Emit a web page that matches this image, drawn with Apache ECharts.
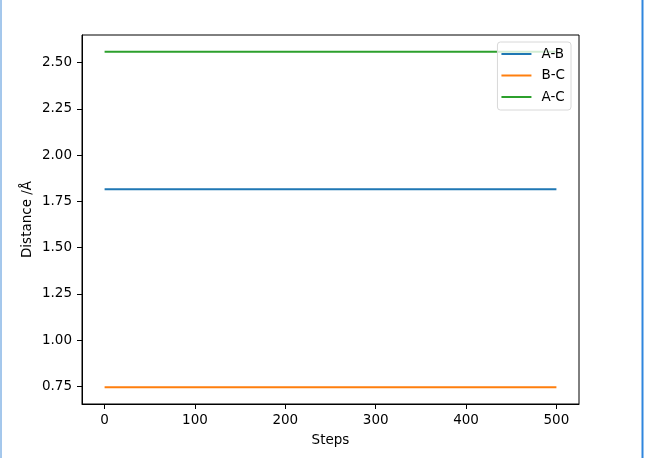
<!DOCTYPE html>
<html>
<head>
<meta charset="utf-8">
<script src="https://cdn.jsdelivr.net/npm/echarts@6/dist/echarts.min.js"></script>
<style>
  html, body { margin: 0; padding: 0; background: #fff; }
  #chart { width: 645px; height: 458px; }
</style>
</head>
<body>
<div id="chart"></div>
<script>
// distances over the run (flat lines)
var steps = [0, 100, 200, 300, 400, 500];
var distAB = [1.815, 1.815, 1.815, 1.815, 1.815, 1.815];
var distBC = [0.745, 0.745, 0.745, 0.745, 0.745, 0.745];
var distAC = [2.559, 2.559, 2.559, 2.559, 2.559, 2.559];

var xTicks = [0, 100, 200, 300, 400, 500];
var yTicks = [0.75, 1.00, 1.25, 1.50, 1.75, 2.00, 2.25, 2.50];

var seriesNames = ['A-B', 'B-C', 'A-C'];
var seriesColors = ['#1f77b4', '#ff7f0e', '#2ca02c'];
var seriesData = [distAB, distBC, distAC];

var font = 'DejaVu Sans';

function pairs(ys) {
  return steps.map(function (s, i) { return [s, ys[i]]; });
}

var chart = echarts.init(document.getElementById('chart'));

var option = {
  animation: false,
  backgroundColor: '#fff',
  textStyle: { fontFamily: font, color: '#000' },
  grid: {
    left: 82, right: 66, top: 35, bottom: 54,
    show: true, borderColor: '#000', borderWidth: 1,
    backgroundColor: '#fff'
  },
  legend: {
    orient: 'vertical',
    right: 74, top: 42,
    data: seriesNames,
    icon: 'rect',
    itemWidth: 30, itemHeight: 2,
    itemGap: 5.5,
    padding: [4, 6, 5, 4],
    borderColor: '#d8d8d8', borderWidth: 1, borderRadius: 3,
    backgroundColor: 'rgba(255,255,255,0.8)',
    textStyle: { fontFamily: font, fontSize: 13.5, color: '#000', lineHeight: 16, padding: [0, 0, 0, 5] }
  },
  xAxis: {
    type: 'value',
    min: -25, max: 525,
    name: 'Steps',
    nameLocation: 'middle',
    nameGap: 29,
    nameMoveOverlap: false,
    nameTextStyle: { fontFamily: font, fontSize: 13.5, color: '#000' },
    axisLine: { show: true, onZero: false, lineStyle: { color: '#000', width: 1 } },
    axisTick: { show: true, length: 5, lineStyle: { color: '#000' }, customValues: xTicks },
    axisLabel: { fontFamily: font, fontSize: 13.5, color: '#000', margin: 9, customValues: xTicks },
    splitLine: { show: false }
  },
  yAxis: {
    type: 'value',
    min: 0.654, max: 2.650,
    name: 'Distance /Å',
    nameLocation: 'middle',
    nameGap: 48,
    nameMoveOverlap: false,
    nameTextStyle: { fontFamily: font, fontSize: 13.5, color: '#000' },
    axisLine: { show: true, onZero: false, lineStyle: { color: '#000', width: 1 } },
    axisTick: { show: true, length: 5, lineStyle: { color: '#000' }, customValues: yTicks },
    axisLabel: {
      fontFamily: font, fontSize: 13.5, color: '#000', margin: 10,
      customValues: yTicks,
      formatter: function (v) { return v.toFixed(2); }
    },
    splitLine: { show: false }
  },
  series: seriesNames.map(function (name, i) {
    return {
      name: name,
      type: 'line',
      data: pairs(seriesData[i]),
      showSymbol: false,
      symbol: 'none',
      lineStyle: { color: seriesColors[i], width: 2 },
      itemStyle: { color: seriesColors[i] }
    };
  }),
  graphic: [
    // window edges visible in the screenshot
    { type: 'line', shape: { x1: 1, y1: 0, x2: 1, y2: 458 }, style: { stroke: '#4a90d9', lineWidth: 1 } },
    { type: 'line', shape: { x1: 642.5, y1: 0, x2: 642.5, y2: 458 }, style: { stroke: '#2f86de', lineWidth: 2 } }
  ]
};

chart.setOption(option);
</script>
</body>
</html>
